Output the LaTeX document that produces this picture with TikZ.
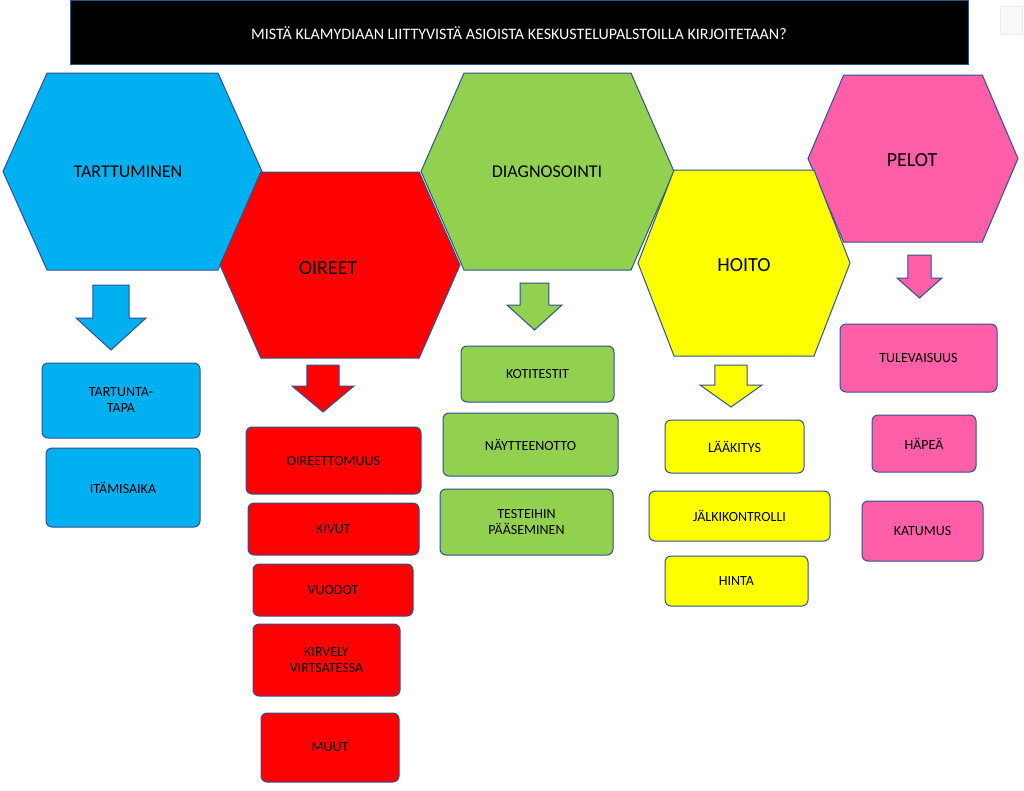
\documentclass[tikz,border=0pt]{standalone}
\usepackage{fontspec}
\setmainfont{Carlito}
\definecolor{cblue}{HTML}{00B0F0}
\definecolor{cred}{HTML}{FF0000}
\definecolor{cgreen}{HTML}{92D050}
\definecolor{cyellow}{HTML}{FFFF00}
\definecolor{cpink}{HTML}{FF5FA8}
\definecolor{edge}{HTML}{2F528F}
\tikzset{
 hexa/.style={draw=edge,line width=1pt},
 bx/.style={draw=edge,line width=1pt,rounded corners=6pt},
 lbl/.style={font=\fontsize{14}{16}\selectfont,align=center},
 hlbl/.style={font=\fontsize{18}{20}\selectfont},
 barrow/.style={draw=edge,line width=1pt}
}
\newcommand{\hexag}[5]{% x1 y1 x2 y2 color
 \pgfmathsetmacro{\dx}{(#3-#1)*0.17}
 \fill[#5] (#1,{(#2+#4)/2}) -- ({#1+\dx},#2) -- ({#3-\dx},#2) -- (#3,{(#2+#4)/2}) -- ({#3-\dx},#4) -- ({#1+\dx},#4) -- cycle;
 \draw[hexa] (#1,{(#2+#4)/2}) -- ({#1+\dx},#2) -- ({#3-\dx},#2) -- (#3,{(#2+#4)/2}) -- ({#3-\dx},#4) -- ({#1+\dx},#4) -- cycle;}
\newcommand{\darrow}[6]{% x1 x2 ytop yhead ybottom color
 \pgfmathsetmacro{\w}{(#2-#1)*0.24}
 \filldraw[barrow,fill=#6] ({#1+\w},#3) -- ({#2-\w},#3) -- ({#2-\w},#4) -- (#2,#4) -- ({(#1+#2)/2},#5) -- (#1,#4) -- ({#1+\w},#4) -- cycle;}
\newcommand{\bxn}[7]{% name x1 y1 x2 y2 color text
 \filldraw[bx,fill=#6] (#2,#3) rectangle (#4,#5);
 \node[lbl] (#1) at ({(#2+#4)/2},{(#3+#5)/2}) {#7};}
\begin{document}
\begin{tikzpicture}[x=1pt,y=-1pt]
\useasboundingbox (0,0) rectangle (1024,790);
\fill[white] (0,0) rectangle (1024,790);
\draw[gray!15,fill=gray!5] (1000,6) rectangle (1022,34);
\filldraw[draw=edge,line width=1pt,fill=black] (70,0) rectangle (968,64);
\node[white,font=\fontsize{16}{18}\selectfont] (title) at (519,33) {MISTÄ KLAMYDIAAN LIITTYVISTÄ ASIOISTA KESKUSTELUPALSTOILLA KIRJOITETAAN?};
\hexag{3}{73}{262}{270}{cblue}
\node[hlbl] (h1) at (128,172) {TARTTUMINEN};
\hexag{421}{73}{674}{270}{cgreen}
\node[hlbl] (h3) at (547,172) {DIAGNOSOINTI};
\hexag{808}{75}{1018}{242}{cpink}
\node[hlbl,font=\fontsize{20}{22}\selectfont] (h5) at (912,160) {PELOT};
\hexag{220}{172}{460}{358}{cred}
\node[hlbl,font=\fontsize{20}{22}\selectfont] (h2) at (328,268) {OIREET};
\hexag{638}{170}{850}{356}{cyellow}
\node[hlbl,font=\fontsize{20}{22}\selectfont] (h4) at (744,265) {HOITO};
\darrow{76}{146}{285}{318}{350}{cblue}
\darrow{292}{354}{365}{386}{412}{cred}
\darrow{507}{562}{283}{305}{330}{cgreen}
\darrow{700}{762}{365}{385}{407}{cyellow}
\darrow{897}{942}{255}{278}{298}{cpink}
\bxn{b1}{42}{363}{200}{438}{cblue}{TARTUNTA-\\TAPA}
\bxn{b2}{46}{448}{200}{527}{cblue}{ITÄMISAIKA}
\bxn{r1}{246}{427}{421}{494}{cred}{OIREETTOMUUS}
\bxn{r2}{248}{503}{419}{555}{cred}{KIVUT}
\bxn{r3}{253}{564}{413}{616}{cred}{VUODOT}
\bxn{r4}{253}{624}{400}{696}{cred}{KIRVELY\\VIRTSATESSA}
\bxn{r5}{261}{713}{399}{782}{cred}{MUUT}
\bxn{g1}{461}{346}{614}{402}{cgreen}{KOTITESTIT}
\bxn{g2}{443}{413}{618}{476}{cgreen}{NÄYTTEENOTTO}
\bxn{g3}{440}{489}{613}{555}{cgreen}{TESTEIHIN\\PÄÄSEMINEN}
\bxn{y1}{665}{420}{804}{473}{cyellow}{LÄÄKITYS}
\bxn{y2}{649}{491}{830}{541}{cyellow}{JÄLKIKONTROLLI}
\bxn{y3}{665}{556}{808}{606}{cyellow}{HINTA}
\bxn{p1}{840}{324}{997}{392}{cpink}{TULEVAISUUS}
\bxn{p2}{872}{415}{976}{472}{cpink}{HÄPEÄ}
\bxn{p3}{862}{501}{983}{561}{cpink}{KATUMUS}
\end{tikzpicture}
\end{document}
